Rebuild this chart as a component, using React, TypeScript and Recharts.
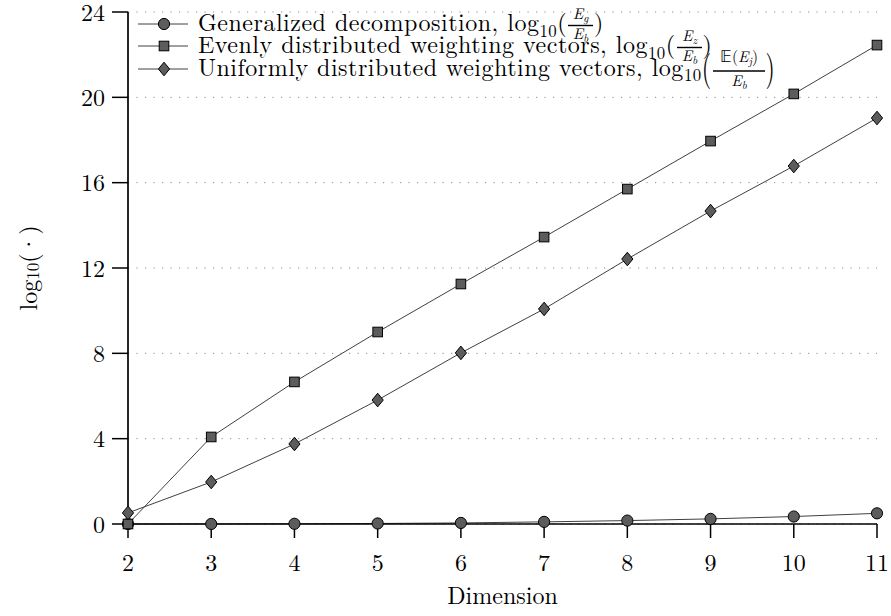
import React from "react";
import { LineChart, Line, XAxis, YAxis, CartesianGrid, Legend } from "recharts";

// dimension of the problem
const dimensions = [2, 3, 4, 5, 6, 7, 8, 9, 10, 11];
// log10(E_g / E_b)
const generalized = [0, 0.003, 0.01, 0.025, 0.05, 0.1, 0.16, 0.24, 0.35, 0.5];
// log10(E_z / E_b)
const evenly = [0, 4.08, 6.66, 9.0, 11.25, 13.45, 15.7, 17.95, 20.16, 22.45];
// log10(E(E_j) / E_b)
const uniformly = [0.52, 1.97, 3.75, 5.81, 8.02, 10.08, 12.42, 14.67, 16.78, 19.03];

const xTicks = [2, 3, 4, 5, 6, 7, 8, 9, 10, 11];
const yTicks = [0, 4, 8, 12, 16, 20, 24];

const data = dimensions.map((d, i) => ({
  dim: d,
  generalized: generalized[i],
  evenly: evenly[i],
  uniformly: uniformly[i],
}));

const FONT = "Latin Modern Roman";
const FS = 24;
const MARK_FILL = "#5c5c5c";
const LINE_COLOR = "#404040";

type Shape = "circle" | "square" | "diamond";

const Marker = ({ cx, cy, shape }: { cx: number; cy: number; shape: Shape }) => {
  if (shape === "circle")
    return <circle cx={cx} cy={cy} r={5.6} fill={MARK_FILL} stroke="#000" strokeWidth={1} />;
  if (shape === "square")
    return <rect x={cx - 4.8} y={cy - 4.8} width={9.6} height={9.6} fill={MARK_FILL} stroke="#000" strokeWidth={1} />;
  return (
    <polygon
      points={`${cx},${cy - 6.8} ${cx + 5.6},${cy} ${cx},${cy + 6.8} ${cx - 5.6},${cy}`}
      fill={MARK_FILL}
      stroke="#000"
      strokeWidth={1}
    />
  );
};

const dotFor = (shape: Shape) => (props: any) => {
  const { cx, cy, index } = props;
  if (cx == null || cy == null) return <g key={index} />;
  return <Marker key={`${shape}-${index}`} cx={cx} cy={cy} shape={shape} />;
};

// E with an italic subscript, as svg tspans (leaves the pen 3px lower)
const ESub = ({ s }: { s: string }) => (
  <>
    <tspan fontStyle="italic">E</tspan>
    <tspan fontStyle="italic" fontSize={11} dy={3}>
      {s}
    </tspan>
  </>
);

// inline \frac drawn as a small svg; y = 6 is the text baseline
const Frac = ({ w, num, den, tall }: { w: number; num: React.ReactNode; den: React.ReactNode; tall?: boolean }) => {
  const nb = tall ? -8 : -6;
  const bar = tall ? 1 : 0.5;
  const db = tall ? 16 : 13.5;
  return (
    <svg width={w} height={10} style={{ verticalAlign: "-4px", overflow: "visible", margin: "0 1px" }}>
      <g fontFamily={FONT} fontSize={15.5} fill="#000" textAnchor="middle" letterSpacing={0}>
        <text x={w / 2} y={nb}>
          {num}
        </text>
        <line x1={0} x2={w} y1={bar} y2={bar} stroke="#000" strokeWidth={1.4} />
        <text x={w / 2} y={db}>
          {den}
        </text>
      </g>
    </svg>
  );
};

const Sub = ({ children }: { children: React.ReactNode }) => (
  <span style={{ fontSize: "0.7em", position: "relative", top: "0.35em" }}>{children}</span>
);

const legendItems: { key: string; shape: Shape; text: string; frac: React.ReactNode; big?: boolean }[] = [
  {
    key: "generalized",
    shape: "circle",
    text: "Generalized decomposition, ",
    frac: <Frac w={25} num={<ESub s="g" />} den={<ESub s="b" />} />,
  },
  {
    key: "evenly",
    shape: "square",
    text: "Evenly distributed weighting vectors, ",
    frac: <Frac w={25} num={<ESub s="z" />} den={<ESub s="b" />} />,
  },
  {
    key: "uniformly",
    shape: "diamond",
    text: "Uniformly distributed weighting vectors, ",
    big: true,
    frac: (
      <Frac
        w={52}
        tall
        num={
          <>
            <tspan>𝔼(</tspan>
            <ESub s="j" />
            <tspan dy={-3}>)</tspan>
          </>
        }
        den={<ESub s="b" />}
      />
    ),
  },
];

const Paren = ({ c, big }: { c: string; big?: boolean }) =>
  big ? (
    <span style={{ display: "inline-block", transform: "scale(1, 1.5)", transformOrigin: "50% 60%" }}>{c}</span>
  ) : (
    <span>{c}</span>
  );

const MathLegend = () => (
  <div style={{ fontFamily: FONT, fontSize: FS, color: "#000", letterSpacing: "0.5px" }}>
    {legendItems.map((it) => (
      <div key={it.key} style={{ height: 22.3, lineHeight: "22px", whiteSpace: "nowrap" }}>
        <svg width={52} height={16} style={{ marginRight: 8, verticalAlign: "-1px" }}>
          <line x1={0} y1={8} x2={50} y2={8} stroke={LINE_COLOR} strokeWidth={1} />
          <Marker cx={26} cy={8} shape={it.shape} />
        </svg>
        {it.text}log
        <Sub>10</Sub>
        <Paren c="(" big={it.big} />
        {it.frac}
        <Paren c=")" big={it.big} />
      </div>
    ))}
  </div>
);

const YLabel = (props: any) => {
  const vb = props.viewBox || { x: 0, y: 0, width: 0, height: 0 };
  const x = vb.x + 27;
  const y = vb.y + vb.height / 2;
  return (
    <text
      x={x}
      y={y}
      transform={`rotate(-90, ${x}, ${y})`}
      textAnchor="middle"
      dominantBaseline="central"
      fontFamily={FONT}
      fontSize={FS}
      fill="#000"
    >
      log
      <tspan fontSize={17} dy={5}>
        10
      </tspan>
      <tspan dy={-5}>(·)</tspan>
    </text>
  );
};

const App: React.FC = () => {
  return (
    <div style={{ position: "absolute", left: 0, top: 0, width: 891, height: 616, background: "#fff" }}>
      <LineChart width={891} height={616} data={data} margin={{ top: 12, right: 14, left: 0, bottom: 0 }}>
        <CartesianGrid vertical={false} stroke="#8a8a8a" strokeDasharray="1.2 7.3" />
        <XAxis
          dataKey="dim"
          type="number"
          domain={[2, 11]}
          ticks={xTicks}
          interval={0}
          height={92}
          tickSize={14}
          tickMargin={16}
          axisLine={{ stroke: "#000", strokeWidth: 1.7 }}
          tickLine={{ stroke: "#000", strokeWidth: 1.5 }}
          tick={{ fill: "#000", fontSize: FS, fontFamily: FONT }}
          label={{
            value: "Dimension",
            position: "insideBottom",
            offset: 12,
            fill: "#000",
            fontSize: FS,
            fontFamily: FONT,
          }}
        />
        <YAxis
          type="number"
          domain={[0, 24]}
          ticks={yTicks}
          interval={0}
          width={128}
          tickSize={16}
          tickMargin={7}
          axisLine={{ stroke: "#000", strokeWidth: 1.7 }}
          tickLine={{ stroke: "#000", strokeWidth: 1.5 }}
          tick={{ fill: "#000", fontSize: FS, fontFamily: FONT }}
          label={<YLabel />}
        />
        <Legend
          layout="vertical"
          align="center"
          verticalAlign="middle"
          content={<MathLegend />}
          wrapperStyle={{ left: 138, top: 10, width: "auto" }}
        />
        <Line dataKey="generalized" stroke={LINE_COLOR} strokeWidth={1} dot={dotFor("circle")} isAnimationActive={false} />
        <Line dataKey="evenly" stroke={LINE_COLOR} strokeWidth={1} dot={dotFor("square")} isAnimationActive={false} />
        <Line dataKey="uniformly" stroke={LINE_COLOR} strokeWidth={1} dot={dotFor("diamond")} isAnimationActive={false} />
      </LineChart>
    </div>
  );
};

export default App;
